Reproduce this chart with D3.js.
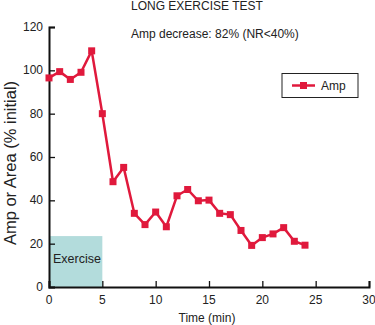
<!DOCTYPE html>
<html>
<head>
<meta charset="utf-8">
<script src="https://cdn.jsdelivr.net/npm/d3@7"></script>
<style>
body { margin: 0; background: #fff; }
svg text { font-family: "Liberation Sans", Arial, sans-serif; fill: #222; }
</style>
</head>
<body>
<div id="chart"></div>
<script>
// data
var times = [0, 1, 2, 3, 4, 5, 6, 7, 8, 9, 10, 11, 12, 13, 14, 15, 16, 17, 18, 19, 20, 21, 22, 23, 24];
var amp = [96.5, 99.4, 95.8, 99.1, 109, 80, 48.6, 55.2, 34, 28.8, 34.6, 27.8, 42.1, 45, 39.8, 40.1, 34, 33.4, 26.1, 19.2, 22.8, 24.5, 27.4, 21.1, 19.3];
var xTicks = [0, 5, 10, 15, 20, 25, 30];
var yTicks = [0, 20, 40, 60, 80, 100, 120];
var exercise = [0, 5, 23.5]; // start, end, height

var W = 375, H = 325;
var red = "#e0193c";

var svg = d3.select("#chart").append("svg")
	.attr("width", W)
	.attr("height", H);

var x = d3.scaleLinear().domain([0, 30]).range([49, 369]);
var y = d3.scaleLinear().domain([0, 120]).range([287, 27]);

// exercise box
svg.append("rect")
	.attr("x", x(exercise[0]))
	.attr("y", y(exercise[2]))
	.attr("width", x(exercise[1]) - x(exercise[0]))
	.attr("height", y(0) - y(exercise[2]))
	.attr("fill", "#b3dcdc");
svg.append("text")
	.attr("x", x(0) + 4)
	.attr("y", y(0) - 24)
	.style("font-size", "12.5px")
	.text("Exercise");

// axes
var xAxis = svg.append("g")
	.attr("transform", "translate(0," + y(0) + ")")
	.call(d3.axisTop(x).tickValues(xTicks).tickSize(6).tickFormat(""));
var yAxis = svg.append("g")
	.attr("transform", "translate(" + x(0) + ",0)")
	.call(d3.axisRight(y).tickValues(yTicks).tickSize(6).tickFormat(""));
[xAxis, yAxis].forEach(function (g) {
	g.select(".domain").attr("stroke", "#111").attr("stroke-width", 2);
	g.selectAll(".tick line").attr("stroke", "#111").attr("stroke-width", 1.3);
});

svg.selectAll(".xlab").data(xTicks).enter().append("text")
	.attr("x", function (d) { return x(d); })
	.attr("y", y(0) + 17)
	.attr("text-anchor", "middle")
	.style("font-size", "12px")
	.text(function (d) { return d; });
svg.selectAll(".ylab").data(yTicks).enter().append("text")
	.attr("x", x(0) - 6)
	.attr("y", function (d) { return y(d) + 4; })
	.attr("text-anchor", "end")
	.style("font-size", "12px")
	.text(function (d) { return d; });

svg.append("text")
	.attr("x", 207)
	.attr("y", 322)
	.attr("text-anchor", "middle")
	.style("font-size", "12px")
	.text("Time (min)");
svg.append("text")
	.attr("transform", "translate(16," + 163 + ") rotate(-90)")
	.attr("text-anchor", "middle")
	.style("font-size", "16.5px")
	.text("Amp or Area (% initial)");

svg.append("text")
	.attr("x", 131)
	.attr("y", 10)
	.style("font-size", "12px")
	.text("LONG EXERCISE TEST");
svg.append("text")
	.attr("x", 131)
	.attr("y", 38)
	.style("font-size", "12px")
	.text("Amp decrease: 82% (NR<40%)");

// series
var line = d3.line()
	.x(function (d, i) { return x(times[i]); })
	.y(function (d) { return y(d); });
svg.append("path")
	.datum(amp)
	.attr("fill", "none")
	.attr("stroke", red)
	.attr("stroke-width", 2.5)
	.attr("stroke-linejoin", "round")
	.attr("d", line);
svg.selectAll(".pt").data(amp).enter().append("rect")
	.attr("x", function (d, i) { return x(times[i]) - 3.5; })
	.attr("y", function (d) { return y(d) - 3.5; })
	.attr("width", 7)
	.attr("height", 7)
	.attr("fill", red);

// legend
var lg = svg.append("g");
lg.append("rect")
	.attr("x", 282)
	.attr("y", 73.5)
	.attr("width", 76)
	.attr("height", 24)
	.attr("fill", "#fff")
	.attr("stroke", "#222")
	.attr("stroke-width", 1);
lg.append("line")
	.attr("x1", 292).attr("x2", 315)
	.attr("y1", 85.5).attr("y2", 85.5)
	.attr("stroke", red)
	.attr("stroke-width", 2.5);
lg.append("rect")
	.attr("x", 300).attr("y", 82)
	.attr("width", 7).attr("height", 7)
	.attr("fill", red);
lg.append("text")
	.attr("x", 321)
	.attr("y", 90)
	.style("font-size", "12px")
	.text("Amp");
</script>
</body>
</html>
